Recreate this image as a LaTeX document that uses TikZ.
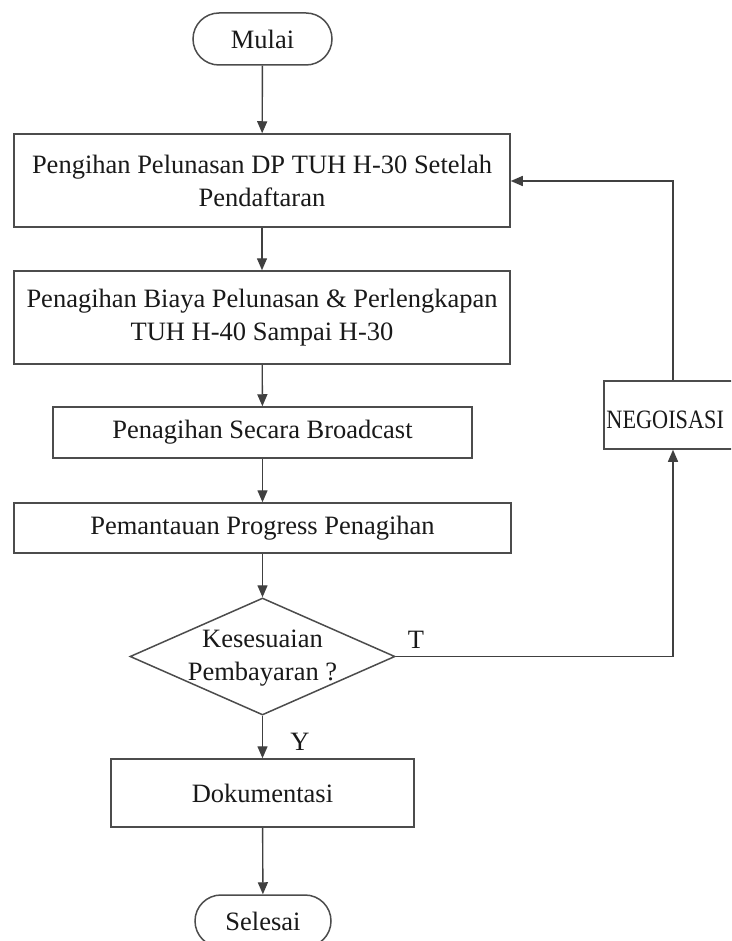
\documentclass[tikz,border=0pt]{standalone}
\usepackage{fontspec}
\usepackage{graphicx}
\setmainfont{Liberation Serif}
\usetikzlibrary{shapes.geometric,arrows.meta}
\begin{document}
\begin{tikzpicture}[x=1pt,y=-1pt,
  every node/.style={font=\fontsize{26.5}{33}\selectfont, text=black!90},
  boxnode/.style={draw=black!70, line width=1.5pt, rectangle, inner sep=0pt, align=center},
  termnode/.style={boxnode, rounded corners=26pt, minimum height=52pt},
  decnode/.style={draw=black!70, line width=1.5pt, diamond, inner sep=0pt},
  conn/.style={draw=black!75, line width=1.4pt, -{Triangle[length=12pt,width=10pt]}}
]
\useasboundingbox (0,0) rectangle (731,941);
\clip (0,0) rectangle (731,941);
\fill[white] (0,0) rectangle (731,941);

\node[termnode, minimum width=139pt] (mulai) at (262.5,39) {Mulai};
\node[boxnode, minimum width=496pt, minimum height=93pt] (b1) at (262,180.5)
  {Pengihan Pelunasan DP TUH H-30 Setelah\\Pendaftaran};
\node[boxnode, minimum width=496pt, minimum height=93pt] (b2) at (262,317.5)
  {Penagihan Biaya Pelunasan \& Perlengkapan\\TUH H-40 Sampai H-30};
\node[boxnode, minimum width=419pt, minimum height=51pt] (b3) at (262.5,432.5)
  {Penagihan Secara Broadcast};
\node[boxnode, minimum width=497pt, minimum height=50pt] (b4) at (262.5,528)
  {Pemantauan Progress Penagihan};
\node[decnode, minimum width=265pt, minimum height=117pt] (dec) at (262.5,656.5) {};
\node[align=center, inner sep=0pt] (dectext) at (262.5,658) {Kesesuaian\\Pembayaran ?};
\node[boxnode, minimum width=303pt, minimum height=68pt] (doku) at (262.5,793) {Dokumentasi};
\node[termnode, minimum width=136pt] (selesai) at (263,921) {Selesai};

\node[boxnode, minimum width=138pt, minimum height=68pt] (nego) at (673,415) {};
\node[anchor=west, inner sep=0pt] (negotext) at ([xshift=3pt,yshift=-5pt]nego.west) {\scalebox{0.84}[1]{NEGOISASI}};

\coordinate (tcorner) at (673,181);
\coordinate (bcorner) at (673,656.5);

\draw[conn] (mulai) -- (b1);
\draw[conn] (b1) -- (b2);
\draw[conn] (b2) -- (b3);
\draw[conn] (b3) -- (b4);
\draw[conn] (b4) -- (dec.north);
\draw[conn] (dec.south) -- (doku);
\draw[conn] (doku) -- (selesai);
\draw[conn] (dec.east) -- (bcorner) -- (nego.south);
\draw[conn] (nego.north) -- (tcorner) -- (tcorner -| b1.east);

\node (tlabel) at (416,640) {T};
\node (ylabel) at (300,742) {Y};
\end{tikzpicture}
\end{document}
